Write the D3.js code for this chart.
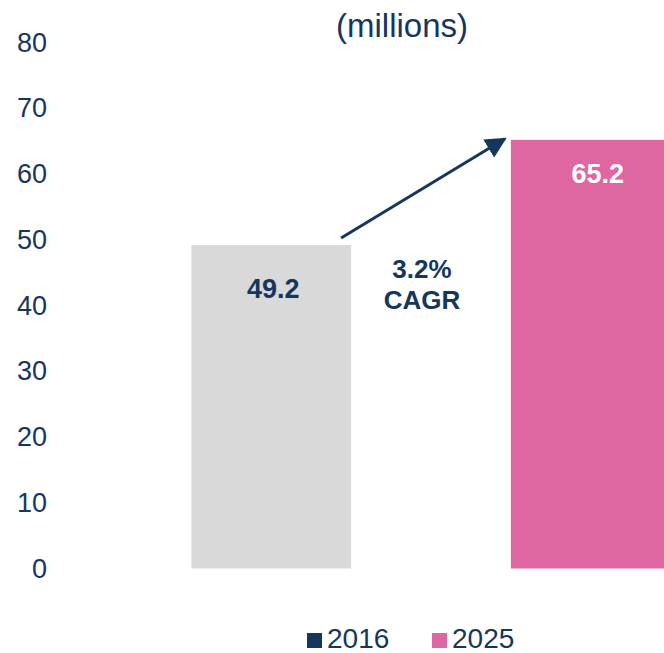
<!DOCTYPE html>
<html>
<head>
<meta charset="utf-8">
<script src="https://cdn.jsdelivr.net/npm/d3@7"></script>
<style>
  body { margin: 0; background: #fff; }
  svg { display: block; font-family: "Liberation Sans", Arial, sans-serif; }
</style>
</head>
<body>
<div class="center"></div>
<script>
// chart data
var years = ["2016", "2025"];
var values = [49.2, 65.2];
var labels = ["49.2", "65.2"];
var yTicks = [0, 10, 20, 30, 40, 50, 60, 70, 80];
var cagrText = ["3.2%", "CAGR"];
var unitText = "(millions)";

var width = 664, height = 653;
var navy = "#17365d";
var barColors = ["#d9d9d9", "#de67a2"];
var legendColors = ["#17365d", "#de67a2"];
var labelColors = [navy, "#ffffff"];
var labelShift = [2, 7];

var svg = d3.select(".center").append("svg")
    .attr("width", width)
    .attr("height", height);

// scales
var y = d3.scaleLinear().domain([0, 80]).range([568.5, 42.5]);
var x = d3.scaleBand().domain(years)
    .range([111.5, 750.5])
    .paddingInner(0.5)
    .paddingOuter(0.25);

// y axis, labels only
var yAxis = svg.append("g")
    .attr("transform", "translate(47,0)")
    .call(d3.axisLeft(y).tickValues(yTicks).tickSize(0).tickPadding(0));
yAxis.select(".domain").remove();
yAxis.selectAll("text")
    .style("font-family", "Liberation Sans, Arial, sans-serif")
    .style("font-size", "27px")
    .attr("fill", navy);

// bars
svg.selectAll(".bar")
    .data(years)
    .enter().append("rect")
    .attr("class", "bar")
    .attr("x", function(d) { return x(d); })
    .attr("width", x.bandwidth())
    .attr("y", function(d, i) { return y(values[i]); })
    .attr("height", function(d, i) { return y(0) - y(values[i]); })
    .attr("fill", function(d, i) { return barColors[i]; });

// value labels
svg.selectAll(".val")
    .data(years)
    .enter().append("text")
    .attr("class", "val")
    .attr("x", function(d, i) { return x(d) + x.bandwidth() / 2 + labelShift[i]; })
    .attr("y", function(d, i) { return y(values[i]) + (i == 0 ? 53 : 43); })
    .attr("text-anchor", "middle")
    .style("font-size", "27px")
    .style("font-weight", "bold")
    .attr("fill", function(d, i) { return labelColors[i]; })
    .text(function(d, i) { return labels[i]; });

// CAGR arrow
svg.append("defs").append("marker")
    .attr("id", "arrow")
    .attr("viewBox", "0 0 10 10")
    .attr("refX", 9).attr("refY", 5)
    .attr("markerWidth", 7).attr("markerHeight", 7)
    .attr("markerUnits", "strokeWidth")
    .attr("orient", "auto")
    .append("path")
    .attr("d", "M0,0 L10,5 L0,10 Z")
    .attr("fill", navy);

svg.append("line")
    .attr("x1", x(years[0]) + x.bandwidth() - 10)
    .attr("y1", y(values[0]) - 7)
    .attr("x2", x(years[1]) - 6)
    .attr("y2", y(values[1]) - 1)
    .attr("stroke", navy)
    .attr("stroke-width", 3)
    .attr("marker-end", "url(#arrow)");

var midX = (x(years[0]) + x.bandwidth() + x(years[1])) / 2 - 9;
svg.selectAll(".cagr")
    .data(cagrText)
    .enter().append("text")
    .attr("class", "cagr")
    .attr("x", midX)
    .attr("y", function(d, i) { return 278 + i * 31; })
    .attr("text-anchor", "middle")
    .style("font-size", "26px")
    .style("font-weight", "bold")
    .attr("fill", navy)
    .text(function(d) { return d; });

// unit title
svg.append("text")
    .attr("x", 402)
    .attr("y", 37)
    .attr("text-anchor", "middle")
    .style("font-size", "33px")
    .attr("fill", navy)
    .text(unitText);

// legend
var legX = [307, 432];
var leg = svg.selectAll(".leg")
    .data(years)
    .enter().append("g")
    .attr("class", "leg")
    .attr("transform", function(d, i) { return "translate(" + legX[i] + ",633)"; });
leg.append("rect")
    .attr("width", 15).attr("height", 15)
    .attr("fill", function(d, i) { return legendColors[i]; });
leg.append("text")
    .attr("x", 20)
    .attr("y", 15)
    .style("font-size", "28px")
    .attr("fill", navy)
    .text(function(d) { return d; });
</script>
</body>
</html>
